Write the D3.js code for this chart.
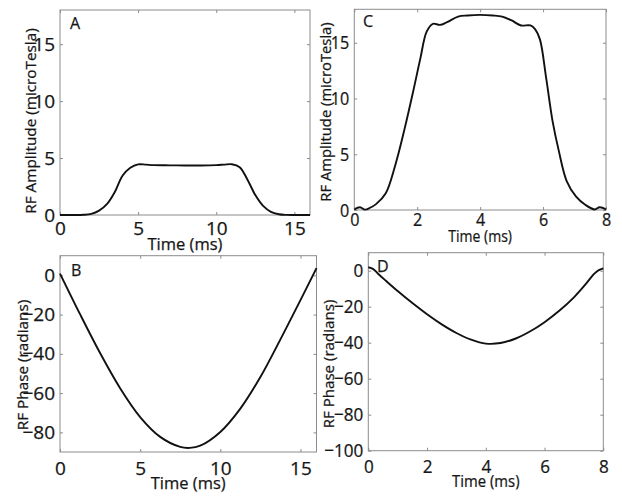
<!DOCTYPE html>
<html><head><meta charset="utf-8">
<script src="https://cdn.jsdelivr.net/npm/d3@7"></script>
<style>
body{margin:0;background:#fff;}
svg{display:block;}
text{font-family:"Open Sans",sans-serif;fill:#161616;stroke:#161616;stroke-width:0.25px;}
</style></head>
<body><svg id="c" width="622" height="502"></svg>
<script>
// ---- data ----
const timeA = [0,1,1.5,2,2.5,3,3.5,4,4.5,5,5.5,6,7,8,9,10,10.5,11,11.5,12,12.5,13,13.5,14,14.5,15,16];
const ampA  = [0,0,0.02,0.1,0.38,0.95,2.0,3.45,4.15,4.45,4.42,4.38,4.36,4.35,4.35,4.38,4.42,4.46,4.2,3.1,1.75,0.8,0.28,0.07,0.01,0,0];

const timeB  = [0,1.25,2.5,3.75,5,6.25,7.5,8.1,8.75,10,11.25,12.5,13.75,15,16];
const phaseB = [0.9,-19.8,-39.6,-57.5,-72.2,-82.3,-87.4,-87.9,-86.8,-79.8,-67.9,-51.8,-32.6,-12.6,3.7];

const timeC = [0,0.18,0.34,0.5,0.7,1.0,1.3,1.6,1.9,2.1,2.3,2.5,2.72,2.95,3.3,3.6,4.0,4.4,4.7,5.0,5.3,5.6,5.75,5.9,6.1,6.3,6.5,6.75,7.05,7.35,7.64,7.8,8.0];
const ampC  = [0.05,0.25,0.03,0.2,0.55,1.5,4.0,7.3,11.0,13.6,16.0,16.7,16.6,16.85,17.35,17.45,17.5,17.45,17.35,17.0,16.55,16.55,16.2,15.3,11.8,8.0,5.3,2.6,1.2,0.45,0.05,0.25,0.05];

const timeD  = [0,0.17,0.34,0.6,1.0,1.5,2.0,2.5,3.0,3.5,4.0,4.5,5.0,5.5,6.0,6.5,7.0,7.4,7.66,7.75,7.85,8.0];
const phaseD = [1.9,0.9,-1.8,-5.6,-11.3,-18.0,-24.2,-29.8,-34.6,-38.3,-40.5,-40.2,-37.8,-33.8,-28.6,-22.3,-14.8,-7.5,-2.2,-0.8,0.3,1.3];

const ticksX16 = [0,5,10,15];
const ticksX8  = [0,2,4,6,8];
const ticksAmp = [0,5,10,15];
const ticksPhB = [0,-20,-40,-60,-80];
const ticksPhD = [0,-20,-40,-60,-80,-100];

const labelX = "Time (ms)";
const labelAmp = "RF Amplitude (microTesla)";
const labelPh = "RF Phase (radians)";

// ---- layout ----
// sx: horizontal squeeze of the panel's text (panels were rescaled unevenly)
const panels = [
  {name:"A", t:timeA, v:ampA, xd:[0,16], yd:[0,18], xt:ticksX16, yt:ticksAmp, yl:labelAmp,
   box:[60,310,10,215], pad:7, sx:1.0, ylfs:15.3, ylx:30, yly:121, xly:250, lx:70, ly:29},
  {name:"C", t:timeC, v:ampC, xd:[0,8], yd:[0,18], xt:ticksX8, yt:ticksAmp, yl:labelAmp,
   box:[354.3,606,9.3,210], pad:3, sx:0.85, ylfs:14.8, ylx:325, yly:112, xly:242, lx:363, ly:27},
  {name:"B", t:timeB, v:phaseB, xd:[0,16], yd:[-90,10], xt:ticksX16, yt:ticksPhB, yl:labelPh,
   box:[60,316.5,255.7,452], pad:10, sx:1.0, ylfs:15.3, ylx:22, yly:365, xly:489, lx:71, ly:276},
  {name:"D", t:timeD, v:phaseD, xd:[0,8], yd:[-100,10], xt:ticksX8, yt:ticksPhD, yl:labelPh,
   box:[368.3,603.3,252.7,450.7], pad:9, sx:0.9, ylfs:15.1, ylx:328, yly:364, xly:487, lx:377, ly:272}
];

const svg = d3.select("#c");
const axisColor = "#8c8c8c";

panels.forEach(p => {
  const [l,r,t,b] = p.box;
  const x = d3.scaleLinear().domain(p.xd).range([l,r]);
  const y = d3.scaleLinear().domain(p.yd).range([b,t]);
  const g = svg.append("g");

  const style = sel => {
    sel.select(".domain").remove();
    sel.attr("font-size", null).attr("font-family", null);
    sel.selectAll(".tick line").attr("stroke", axisColor);
    sel.selectAll(".tick text").style("font-size","19px").attr("fill","#161616");
  };

  g.append("g").attr("transform",`translate(0,${b})`)
    .call(d3.axisBottom(x).tickValues(p.xt).tickSize(-3).tickPadding(p.pad)).call(style)
    .selectAll(".tick text").attr("transform",`scale(${p.sx},1)`);
  g.append("g").attr("transform",`translate(0,${t})`)
    .call(d3.axisTop(x).tickValues(p.xt).tickSize(-3).tickFormat("")).call(style);
  g.append("g").attr("transform",`translate(${l},0)`)
    .call(d3.axisLeft(y).tickValues(p.yt).tickSize(-3).tickPadding(5)).call(style)
    .selectAll(".tick text").attr("x", -5/p.sx).attr("transform",`scale(${p.sx},1)`);
  g.append("g").attr("transform",`translate(${r},0)`)
    .call(d3.axisRight(y).tickValues(p.yt).tickSize(-3).tickFormat("")).call(style);

  g.append("rect").attr("x",l).attr("y",t).attr("width",r-l).attr("height",b-t)
    .attr("fill","none").attr("stroke",axisColor).attr("stroke-width",1);

  const line = d3.line().x(d=>x(d[0])).y(d=>y(d[1])).curve(d3.curveCatmullRom.alpha(0.5));
  g.append("path").datum(p.t.map((tt,i)=>[tt,p.v[i]]))
    .attr("d",line).attr("fill","none").attr("stroke","#111").attr("stroke-width",1.9);

  g.append("text").attr("transform",`translate(${(l+r)/2},${p.xly}) scale(${p.sx},1)`)
    .attr("text-anchor","middle").style("font-size","16.5px").text(labelX);
  g.append("text").attr("transform",`translate(${p.ylx},${p.yly}) rotate(-90)`)
    .attr("text-anchor","middle").attr("dominant-baseline","central")
    .style("font-size",p.ylfs+"px").text(p.yl);
  g.append("text").attr("x",p.lx).attr("y",p.ly).style("font-size","16px").text(p.name);
});
</script></body></html>
